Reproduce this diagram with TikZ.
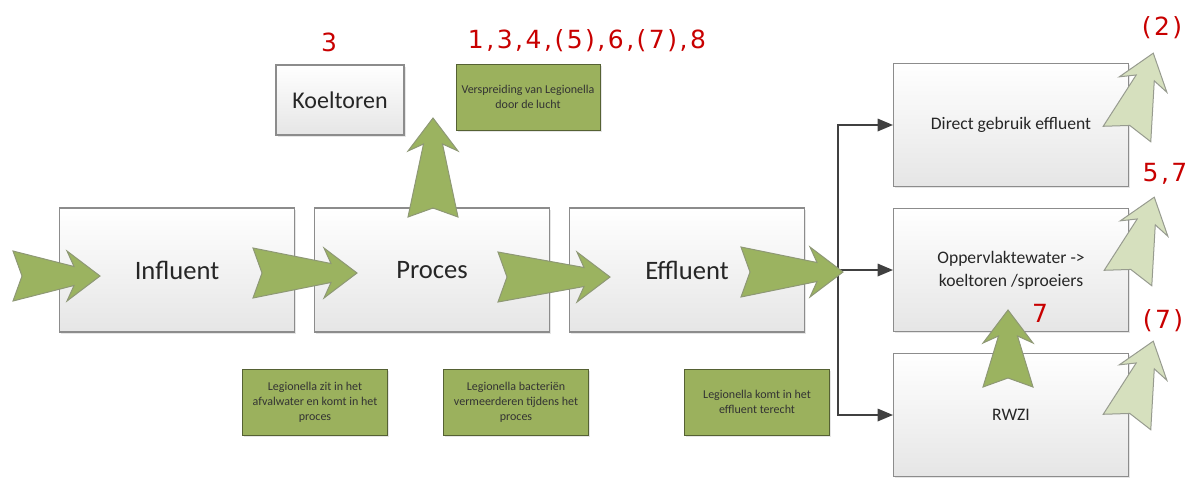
\documentclass[tikz,border=0pt]{standalone}
\usepackage{fontspec}
\setmainfont{Carlito}
\newfontfamily\numfont[LetterSpace=10]{DejaVu Sans}
\usepackage{xcolor}
\usepackage{tikz}
\usetikzlibrary{shapes,arrows}
\usetikzlibrary{positioning}
\usetikzlibrary{shadows}
\definecolor{boxgray}{RGB}{140,140,140}
\definecolor{notegreen}{RGB}{155,177,93}
\definecolor{arrowgreen}{RGB}{155,179,96}
\definecolor{palegreen}{RGB}{214,224,190}
\definecolor{scorered}{RGB}{200,0,0}
\tikzstyle{stage} = [rectangle, draw=boxgray, line width=0.6pt,
    top color=white, bottom color=black!10, text=black!85,
    inner sep=0pt, minimum width=117.5pt, minimum height=62pt,
    font=\fontsize{13.3}{16}\selectfont,
    drop shadow={shadow xshift=0.8pt, shadow yshift=-0.8pt, opacity=0.2}]
\tikzstyle{target} = [stage, align=center, minimum height=61.5pt,
    font=\fontsize{8.8}{11.5}\selectfont]
\tikzstyle{note} = [rectangle, draw=notegreen!55!black, fill=notegreen,
    text=black!80, inner sep=0pt, minimum width=72.5pt, minimum height=33pt,
    align=center, font=\fontsize{6}{7.5}\selectfont,
    drop shadow={shadow xshift=0.8pt, shadow yshift=-0.8pt, opacity=0.2}]
\tikzstyle{score} = [text=scorered, inner sep=0pt,
    font={\numfont\fontsize{12.5}{15}\selectfont}]
\tikzstyle{line} = [draw=black!75, line width=0.75pt, -triangle 45]
\tikzstyle{flowarrow} = [draw=arrowgreen!60!black!70, fill=arrowgreen, line width=0.5pt]
\tikzstyle{sidearrow} = [draw=palegreen!50!black!70, fill=palegreen, line width=0.5pt]
\tikzset{
  pics/flow/.style={code={
    \path [pic actions] (0,-25) -- (9,0) -- (0,25) -- (#1-26,9.5) -- (#1-33,25)
      -- (#1,0) -- (#1-33,-25) -- (#1-26,-9.5) -- cycle;
  }}
}
\begin{document}
\begin{tikzpicture}[x=0.5pt, y=-0.5pt, node distance=127.5pt, auto]
  \useasboundingbox (0,0) rectangle (1200,478);
  % Place nodes
  \node [stage] (influent) at (177,270) {Influent};
  \node [stage, right of=influent] (proces) {Proces};
  \node [stage, right of=proces] (effluent) {Effluent};
  \node [stage, minimum width=64pt, minimum height=35pt,
         font=\fontsize{12}{14}\selectfont] (koeltoren) at (340,100) {Koeltoren};
  \node [target, right of=effluent, node distance=162pt] (opp) {Oppervlaktewater ->\\koeltoren /sproeiers};
  \node [target, above of=opp, node distance=72.5pt] (direct) {Direct gebruik effluent};
  \node [target, below of=opp, node distance=72.5pt] (rwzi) {RWZI};
  \node [note, minimum width=72pt] (lucht) at (528,97) {Verspreiding van Legionella\\door de lucht};
  \node [note] (afvalwater) at (315,402) {Legionella zit in het\\afvalwater en komt in het\\proces};
  \node [note] (bacterien) at (516,402) {Legionella bacteriën\\vermeerderen tijdens het\\proces};
  \node [note] (terecht) at (757,402) {Legionella komt in het\\effluent terecht};

  % Draw edges
  \coordinate (split) at (838,270);
  \path [line] (split) -- (opp);
  \path [line] (split) |- (direct);
  \path [line] (split) |- (rwzi);

  % Big arrows over the boxes
  \pic [flowarrow] at (13,276) {flow=87};
  \pic [flowarrow] at (253,273) {flow=104};
  \pic [flowarrow] at (498,277) {flow=112};
  \pic [flowarrow] at (741,272) {flow=102};
  \pic [flowarrow, rotate=90] at (433,217) {flow=99};
  \pic [flowarrow, rotate=90] at (1008,387) {flow=77};
  \pic [sidearrow, rotate=72] at (1127,134) {flow=85};
  \pic [sidearrow, rotate=72] at (1128,278) {flow=85};
  \pic [sidearrow, rotate=72] at (1127,422) {flow=85};

  % Scores
  \node [score] (s1) at (329,42) {3};
  \node [score] (s2) at (587,41) {1,3,4,(5),6,(7),8};
  \node [score] (s3) at (1162,28) {(2)};
  \node [score] (s4) at (1165,174) {5,7};
  \node [score] (s5) at (1163,321) {(7)};
  \node [score] (s6) at (1040,313) {7};
\end{tikzpicture}
\end{document}
